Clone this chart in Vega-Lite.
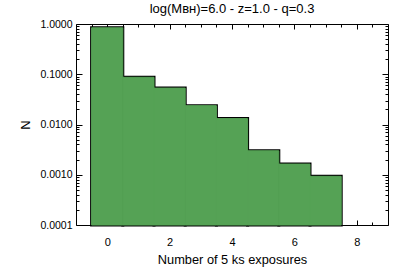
{
  "$schema": "https://vega.github.io/schema/vega-lite/v6.json",
  "width": 312,
  "height": 201,
  "autosize": "none",
  "padding": {"left": 76, "top": 24, "right": 24, "bottom": 49},
  "background": "#ffffff",
  "config": {
    "view": {"stroke": "#000000", "strokeWidth": 1},
    "font": "Liberation Sans",
    "axis": {"domain": false, "grid": false, "tickColor": "#000000", "labelColor": "#000000", "titleColor": "#000000", "tickWidth": 1}
  },
  "title": {"text": "log(Mʙʜ)=6.0 - z=1.0 - q=0.3", "fontSize": 13, "fontWeight": "normal", "offset": 3, "anchor": "middle", "color": "#000000"},
  "data": {
    "values": [
      {"bin_start": -0.5, "bin_end": 0.5, "N": 0.84},
      {"bin_start": 0.5, "bin_end": 1.5, "N": 0.087},
      {"bin_start": 1.5, "bin_end": 2.5, "N": 0.053},
      {"bin_start": 2.5, "bin_end": 3.5, "N": 0.0237},
      {"bin_start": 3.5, "bin_end": 4.5, "N": 0.0131},
      {"bin_start": 4.5, "bin_end": 5.5, "N": 0.0030},
      {"bin_start": 5.5, "bin_end": 6.5, "N": 0.00163},
      {"bin_start": 6.5, "bin_end": 7.5, "N": 0.00093}
    ]
  },
  "layer": [
    {
      "mark": {"type": "bar", "fill": "#55a255", "stroke": "#000000", "strokeWidth": 3},
      "encoding": {
        "x": {"field": "bin_start", "type": "quantitative",
              "scale": {"domain": [-1, 9], "nice": false, "zero": false},
              "axis": {"orient": "bottom", "values": [0, 2, 4, 6, 8], "tickSize": -5, "labelFontSize": 11, "labelPadding": 16,
                       "title": "Number of 5 ks exposures", "titleFontSize": 12.8, "titleFontWeight": "normal", "titlePadding": 6}},
        "x2": {"field": "bin_end"},
        "y": {"field": "N", "type": "quantitative",
              "scale": {"type": "log", "domain": [0.0001, 1], "nice": false},
              "axis": {"orient": "left", "values": [0.0001, 0.001, 0.01, 0.1, 1], "format": ".4f", "tickSize": -6, "labelFontSize": 10.5, "labelPadding": 10,
                       "title": "N", "titleFontSize": 13, "titleFontWeight": "normal", "titlePadding": 7}},
        "y2": {"datum": 0.0001}
      }
    },
    {
      "mark": {"type": "bar", "fill": "#55a255", "stroke": "#55a255", "strokeWidth": 1},
      "encoding": {
        "x": {"field": "bin_start", "type": "quantitative",
              "axis": {"orient": "top", "values": [0, 2, 4, 6, 8], "tickSize": -5, "labels": false, "title": null}},
        "x2": {"field": "bin_end"},
        "y": {"field": "N", "type": "quantitative",
              "axis": {"orient": "right", "values": [0.0001, 0.001, 0.01, 0.1, 1], "tickSize": -6, "labels": false, "title": null}},
        "y2": {"datum": 0.0001}
      }
    },
    {
      "mark": {"type": "point", "opacity": 0},
      "encoding": {
        "x": {"field": "bin_start", "type": "quantitative",
              "axis": {"orient": "bottom", "values": [-0.5, 0.5, 1, 1.5, 2.5, 3, 3.5, 4.5, 5, 5.5, 6.5, 7, 7.5, 8.5], "tickSize": -3, "labels": false, "title": null}},
        "y": {"field": "N", "type": "quantitative",
              "axis": {"orient": "left", "values": [0.0002, 0.0003, 0.0004, 0.0005, 0.0006, 0.0007, 0.0008, 0.0009, 0.002, 0.003, 0.004, 0.005, 0.006, 0.007, 0.008, 0.009, 0.02, 0.03, 0.04, 0.05, 0.06, 0.07, 0.08, 0.09, 0.2, 0.3, 0.4, 0.5, 0.6, 0.7, 0.8, 0.9], "tickSize": -3, "labels": false, "title": null}}
      }
    },
    {
      "mark": {"type": "point", "opacity": 0},
      "encoding": {
        "x": {"field": "bin_start", "type": "quantitative",
              "axis": {"orient": "top", "values": [-0.5, 0.5, 1, 1.5, 2.5, 3, 3.5, 4.5, 5, 5.5, 6.5, 7, 7.5, 8.5], "tickSize": -3, "labels": false, "title": null}},
        "y": {"field": "N", "type": "quantitative",
              "axis": {"orient": "right", "values": [0.0002, 0.0003, 0.0004, 0.0005, 0.0006, 0.0007, 0.0008, 0.0009, 0.002, 0.003, 0.004, 0.005, 0.006, 0.007, 0.008, 0.009, 0.02, 0.03, 0.04, 0.05, 0.06, 0.07, 0.08, 0.09, 0.2, 0.3, 0.4, 0.5, 0.6, 0.7, 0.8, 0.9], "tickSize": -3, "labels": false, "title": null}}
      }
    }
  ],
  "resolve": {"scale": {"x": "shared", "y": "shared"}, "axis": {"x": "independent", "y": "independent"}}
}
